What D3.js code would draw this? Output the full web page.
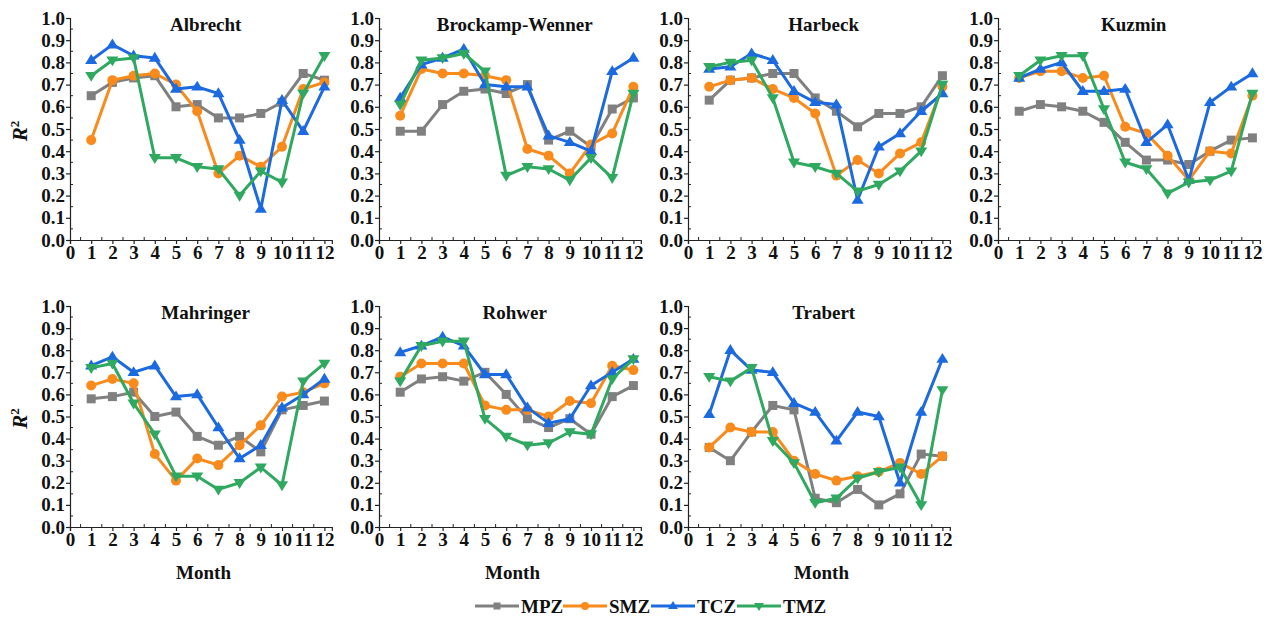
<!DOCTYPE html>
<html>
<head>
<meta charset="utf-8">
<script src="https://cdn.jsdelivr.net/npm/d3@7"></script>
<style>
  html, body { margin: 0; padding: 0; background: #fff; }
  svg text { font-family: "Liberation Serif", "Times New Roman", serif; font-weight: bold; fill: #111; }
</style>
</head>
<body>
<svg id="chart" width="1271" height="618"></svg>
<script>
// Months on the x axis
const months = [1, 2, 3, 4, 5, 6, 7, 8, 9, 10, 11, 12];
const xTicks = [0, 1, 2, 3, 4, 5, 6, 7, 8, 9, 10, 11, 12];
const yTicks = [0, 0.1, 0.2, 0.3, 0.4, 0.5, 0.6, 0.7, 0.8, 0.9, 1.0];

// Zones (series) and their colours
const zones = ["MPZ", "SMZ", "TCZ", "TMZ"];
const zoneColors = ["#808080", "#F98A1C", "#1C6AE0", "#2FA860"];
const zoneSymbols = ["square", "circle", "triangleUp", "triangleDown"];

// Evaporation models (one panel each)
const models = ["Albrecht", "Brockamp-Wenner", "Harbeck", "Kuzmin", "Mahringer", "Rohwer", "Trabert"];

// R² per month, per zone, per model
const albrecht = {
  MPZ: [0.65, 0.71, 0.73, 0.74, 0.60, 0.61, 0.55, 0.55, 0.57, 0.62, 0.75, 0.72],
  SMZ: [0.45, 0.72, 0.74, 0.75, 0.70, 0.58, 0.30, 0.38, 0.33, 0.42, 0.68, 0.71],
  TCZ: [0.81, 0.88, 0.83, 0.82, 0.68, 0.69, 0.66, 0.45, 0.14, 0.63, 0.49, 0.69],
  TMZ: [0.74, 0.81, 0.82, 0.37, 0.37, 0.33, 0.32, 0.20, 0.31, 0.26, 0.66, 0.83]
};
const brockampWenner = {
  MPZ: [0.49, 0.49, 0.61, 0.67, 0.68, 0.66, 0.70, 0.45, 0.49, 0.42, 0.59, 0.64],
  SMZ: [0.56, 0.77, 0.75, 0.75, 0.74, 0.72, 0.41, 0.38, 0.30, 0.43, 0.48, 0.69],
  TCZ: [0.64, 0.79, 0.82, 0.86, 0.70, 0.69, 0.69, 0.47, 0.44, 0.40, 0.76, 0.82],
  TMZ: [0.61, 0.81, 0.82, 0.84, 0.76, 0.29, 0.33, 0.32, 0.27, 0.37, 0.28, 0.66]
};
const harbeck = {
  MPZ: [0.63, 0.72, 0.73, 0.75, 0.75, 0.64, 0.58, 0.51, 0.57, 0.57, 0.60, 0.74],
  SMZ: [0.69, 0.72, 0.73, 0.68, 0.64, 0.57, 0.29, 0.36, 0.30, 0.39, 0.44, 0.69],
  TCZ: [0.77, 0.78, 0.84, 0.81, 0.67, 0.62, 0.61, 0.18, 0.42, 0.48, 0.58, 0.66],
  TMZ: [0.78, 0.80, 0.81, 0.64, 0.35, 0.33, 0.30, 0.22, 0.25, 0.31, 0.40, 0.70]
};
const kuzmin = {
  MPZ: [0.58, 0.61, 0.60, 0.58, 0.53, 0.44, 0.36, 0.36, 0.34, 0.40, 0.45, 0.46],
  SMZ: [0.73, 0.76, 0.76, 0.73, 0.74, 0.51, 0.48, 0.38, 0.27, 0.40, 0.39, 0.65],
  TCZ: [0.73, 0.77, 0.80, 0.67, 0.67, 0.68, 0.44, 0.52, 0.27, 0.62, 0.69, 0.75],
  TMZ: [0.74, 0.81, 0.83, 0.83, 0.59, 0.35, 0.32, 0.21, 0.26, 0.27, 0.31, 0.66]
};
const mahringer = {
  MPZ: [0.58, 0.59, 0.61, 0.50, 0.52, 0.41, 0.37, 0.41, 0.34, 0.53, 0.55, 0.57],
  SMZ: [0.64, 0.67, 0.65, 0.33, 0.21, 0.31, 0.28, 0.37, 0.46, 0.59, 0.61, 0.65],
  TCZ: [0.73, 0.77, 0.70, 0.73, 0.59, 0.60, 0.45, 0.31, 0.37, 0.54, 0.60, 0.67],
  TMZ: [0.72, 0.74, 0.56, 0.42, 0.23, 0.23, 0.17, 0.20, 0.27, 0.19, 0.66, 0.74]
};
const rohwer = {
  MPZ: [0.61, 0.67, 0.68, 0.66, 0.70, 0.60, 0.49, 0.45, 0.49, 0.42, 0.59, 0.64],
  SMZ: [0.68, 0.74, 0.74, 0.74, 0.55, 0.53, 0.53, 0.50, 0.57, 0.56, 0.73, 0.71],
  TCZ: [0.79, 0.82, 0.86, 0.82, 0.69, 0.69, 0.54, 0.47, 0.49, 0.64, 0.70, 0.76],
  TMZ: [0.66, 0.82, 0.84, 0.84, 0.49, 0.41, 0.37, 0.38, 0.43, 0.42, 0.67, 0.76]
};
const trabert = {
  MPZ: [0.36, 0.30, 0.43, 0.55, 0.53, 0.13, 0.11, 0.17, 0.10, 0.15, 0.33, 0.32],
  SMZ: [0.36, 0.45, 0.43, 0.43, 0.30, 0.24, 0.21, 0.23, 0.25, 0.29, 0.24, 0.32],
  TCZ: [0.51, 0.80, 0.71, 0.70, 0.56, 0.52, 0.39, 0.52, 0.50, 0.20, 0.52, 0.76],
  TMZ: [0.68, 0.66, 0.72, 0.39, 0.29, 0.11, 0.13, 0.22, 0.25, 0.27, 0.10, 0.62]
};
const modelData = [albrecht, brockampWenner, harbeck, kuzmin, mahringer, rohwer, trabert];

const svg = d3.select("#chart");

// Panel grid
const colLeft = [70, 379, 688, 998];
const monthWidth = 21.2;
const xMax = 12.35;
const rowY = [{ bottom: 240, top: 18 }, { bottom: 527, top: 306 }];

function symbolPath(kind, size) {
  const s = size;
  if (kind === "square") return d3.symbol(d3.symbolSquare, s * s)();
  if (kind === "circle") return d3.symbol(d3.symbolCircle, Math.PI * (s / 2) * (s / 2))();
  const h = s * 0.9, w = s * 1.1;
  if (kind === "triangleUp") return `M0,${-h * 0.62}L${w / 2},${h * 0.38}L${-w / 2},${h * 0.38}Z`;
  return `M0,${h * 0.62}L${w / 2},${-h * 0.38}L${-w / 2},${-h * 0.38}Z`;
}
const markerSize = [9, 10, 11, 11];

models.forEach((name, i) => {
  const row = i < 4 ? 0 : 1;
  const col = i % 4;
  const x0 = colLeft[col];
  const x = d3.scaleLinear().domain([0, xMax]).range([x0, x0 + xMax * monthWidth]);
  const y = d3.scaleLinear().domain([0, 1]).range([rowY[row].bottom, rowY[row].top]);
  const g = svg.append("g");

  // y axis: major ticks outward with labels, minor ticks inward
  const yAxis = g.append("g").attr("transform", `translate(${x(0)},0)`)
    .call(d3.axisLeft(y).tickValues(yTicks).tickFormat(d3.format(".1f")).tickSize(4).tickPadding(1));
  yAxis.selectAll("text").style("font-size", "19px");
  g.append("g").selectAll("line").data(d3.range(0.05, 1, 0.1)).join("line")
    .attr("x1", x(0)).attr("x2", x(0) + 3)
    .attr("y1", d => y(d)).attr("y2", d => y(d))
    .attr("stroke", "#222").attr("stroke-width", 1);

  // x axis: major ticks outward with labels, minor ticks inward
  const xAxis = g.append("g").attr("transform", `translate(0,${y(0)})`)
    .call(d3.axisBottom(x).tickValues(xTicks).tickFormat(d3.format("d")).tickSize(4).tickPadding(2));
  xAxis.selectAll("text").style("font-size", "19px");
  g.append("g").selectAll("line").data(d3.range(0.5, 12.5, 1)).join("line")
    .attr("x1", d => x(d)).attr("x2", d => x(d))
    .attr("y1", y(0)).attr("y2", y(0) - 3)
    .attr("stroke", "#222").attr("stroke-width", 1);

  [yAxis, xAxis].forEach(a => {
    a.select(".domain").attr("stroke", "#222").attr("stroke-width", 1.2);
    a.selectAll(".tick line").attr("stroke", "#222").attr("stroke-width", 1.2);
    a.selectAll("text").attr("fill", "#111");
  });

  // panel title
  g.append("text").attr("x", x(6.4)).attr("y", y(1) + 13)
    .attr("text-anchor", "middle").style("font-size", "19px").text(name);

  // series lines and markers
  const data = modelData[i];
  zones.forEach((z, k) => {
    const pts = months.map((m, j) => [m, data[z][j]]);
    g.append("path").datum(pts)
      .attr("fill", "none").attr("stroke", zoneColors[k]).attr("stroke-width", 3)
      .attr("stroke-linejoin", "round")
      .attr("d", d3.line().x(d => x(d[0])).y(d => y(d[1])));
    g.append("g").selectAll("path").data(pts).join("path")
      .attr("transform", d => `translate(${x(d[0])},${y(d[1])})`)
      .attr("d", symbolPath(zoneSymbols[k], markerSize[k]))
      .attr("fill", zoneColors[k]);
  });

  // axis titles
  if (col === 0) {
    const yc = (rowY[row].bottom + rowY[row].top) / 2 + 2;
    const t = g.append("text").attr("transform", `translate(27,${yc}) rotate(-90)`)
      .attr("text-anchor", "middle").style("font-size", "21px");
    t.append("tspan").style("font-style", "italic").text("R");
    t.append("tspan").attr("dy", -8).style("font-size", "13px").text("2");
  }
  if (row === 1) {
    g.append("text").attr("x", x(6.3)).attr("y", 579)
      .attr("text-anchor", "middle").style("font-size", "19px").text("Month");
  }
});

// legend
const legendX = [475, 563, 651, 737];
const legend = svg.append("g").attr("transform", "translate(0,606)");
zones.forEach((z, k) => {
  const lx = legendX[k];
  legend.append("line").attr("x1", lx).attr("x2", lx + 44).attr("y1", 0).attr("y2", 0)
    .attr("stroke", zoneColors[k]).attr("stroke-width", 3);
  legend.append("path").attr("transform", `translate(${lx + 22},0)`)
    .attr("d", symbolPath(zoneSymbols[k], markerSize[k] - 2)).attr("fill", zoneColors[k]);
  legend.append("text").attr("x", lx + 46).attr("y", 6.5).style("font-size", "19px").text(z);
});
</script>
</body>
</html>
